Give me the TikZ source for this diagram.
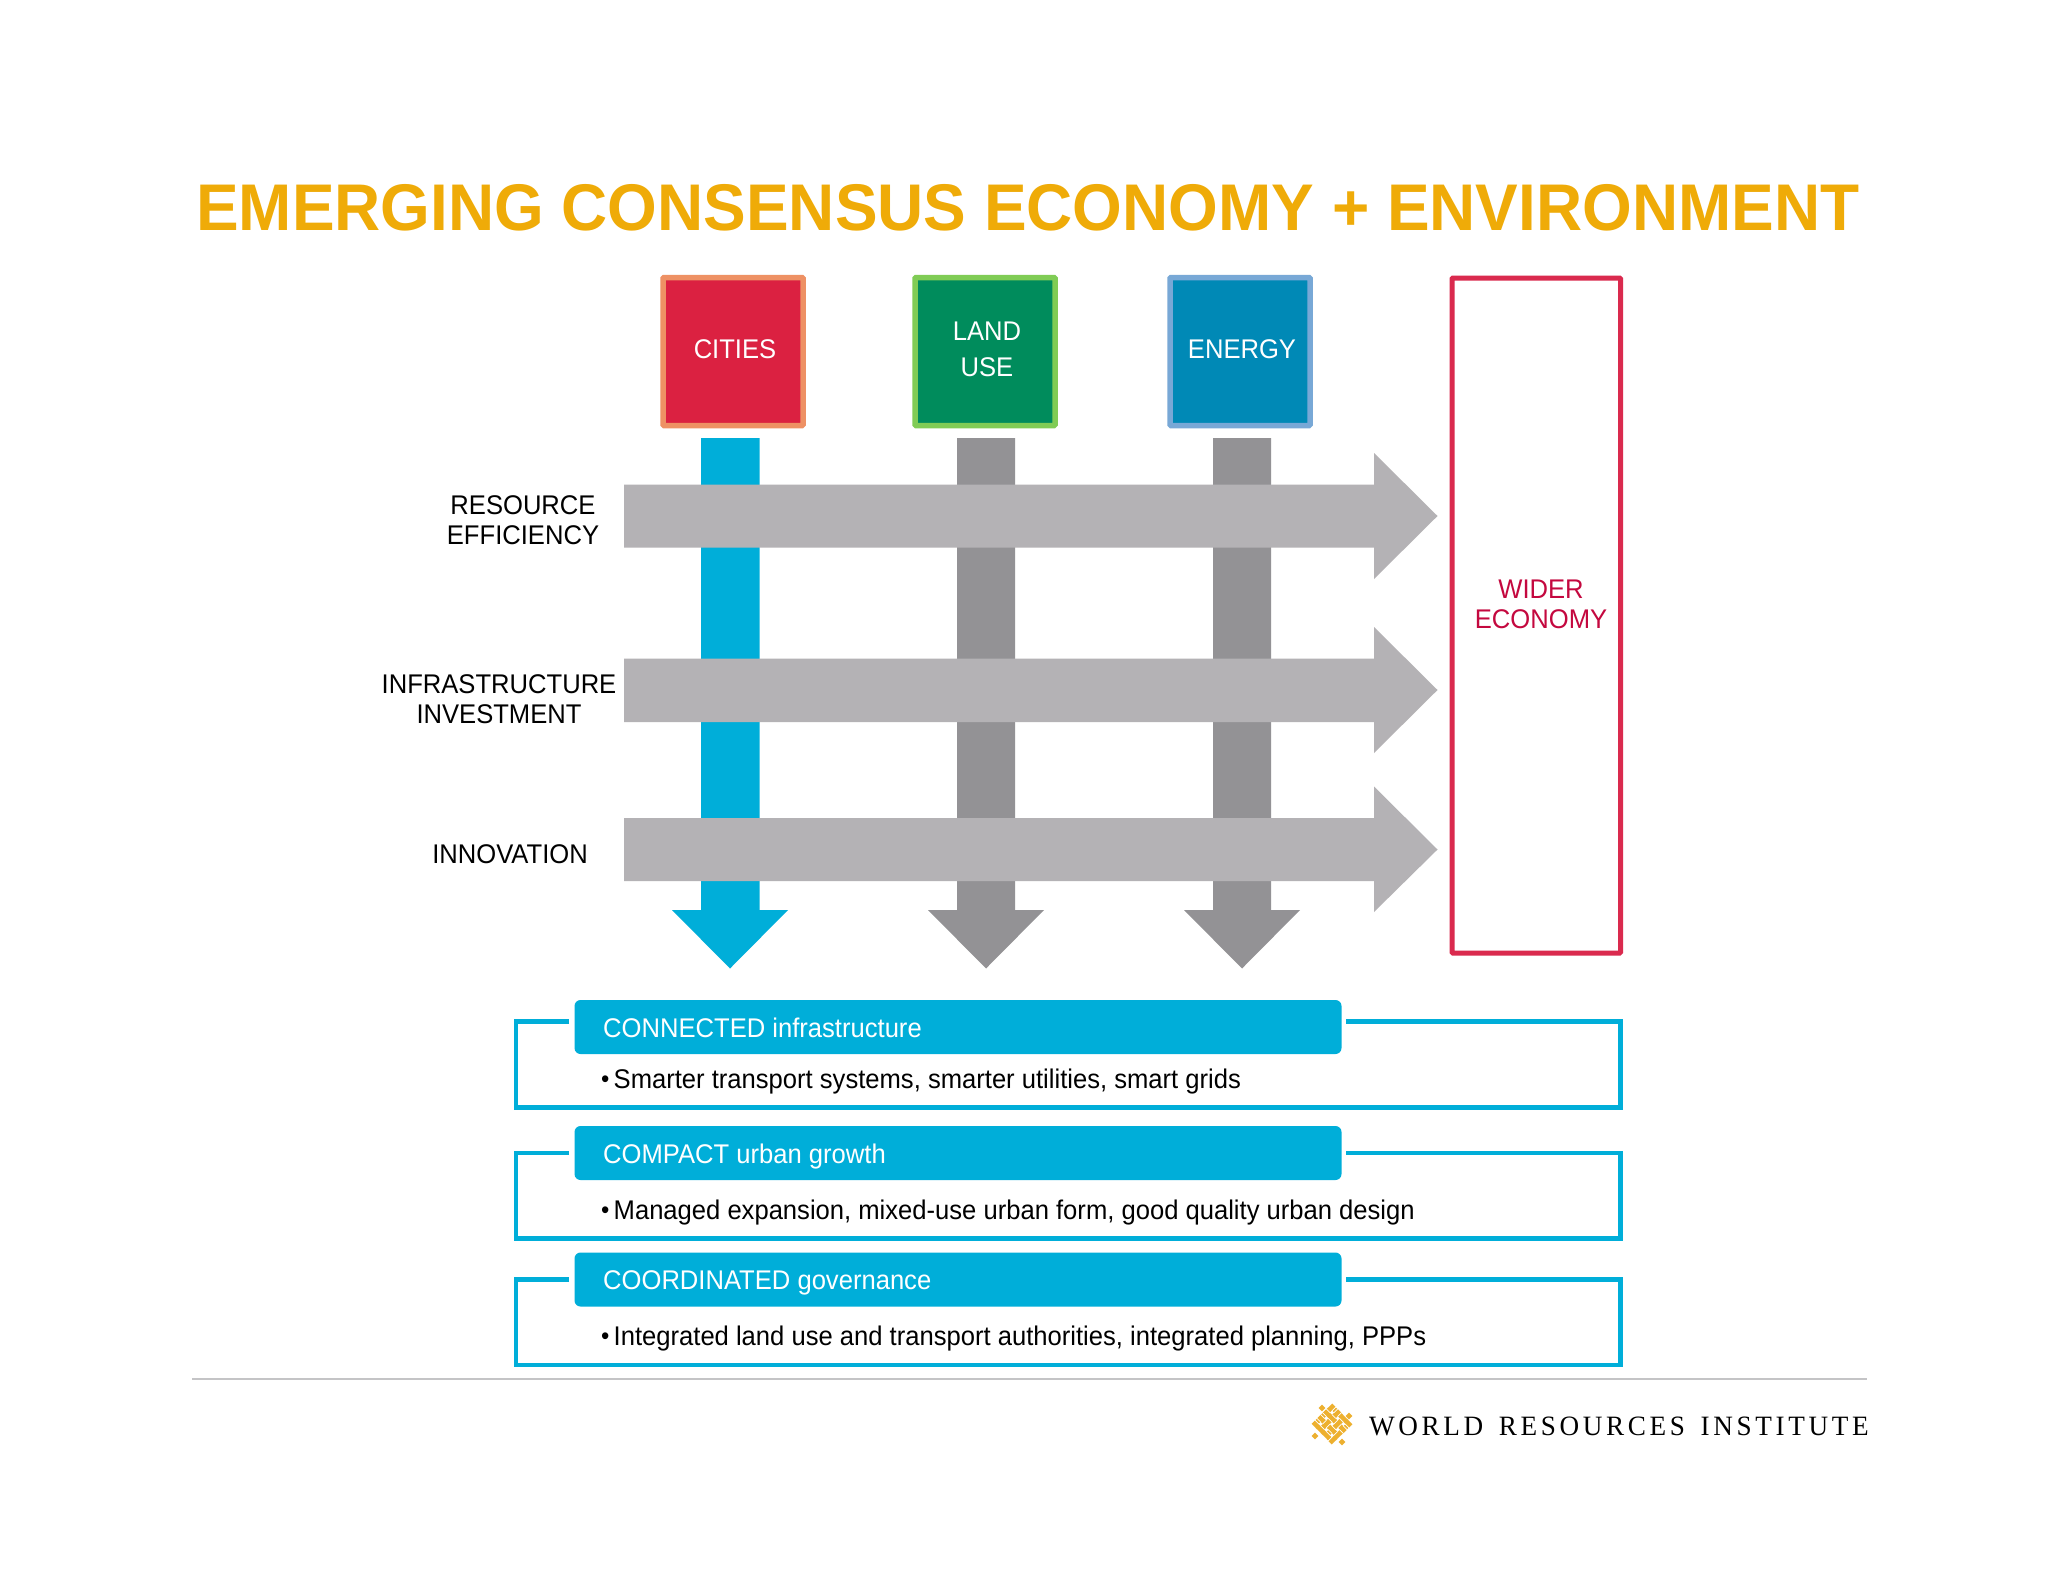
\documentclass[tikz,border=0pt]{standalone}
\usepackage{fontspec}
\setmainfont{Liberation Sans}
\newfontfamily\narrowsans[FakeStretch=0.948]{Liberation Sans}
\newfontfamily\titlesans[FakeStretch=0.968]{Liberation Sans}
\newfontfamily\serifwri[LetterSpace=13,FakeStretch=0.97,WordSpace=1.5]{Liberation Serif}
\definecolor{titlegold}{HTML}{EFAB08}
\definecolor{cyanbar}{HTML}{00AED9}
\definecolor{vgray}{HTML}{939295}
\definecolor{hgray}{HTML}{B4B2B5}
\definecolor{wider}{HTML}{DA2A4E}
\definecolor{widertxt}{HTML}{C4083F}
\definecolor{logogold}{HTML}{EDB02F}
\newcommand{\smbul}{\makebox[12.5pt][l]{\raisebox{0.5pt}{\fontsize{25}{25}\selectfont •}}}
\tikzset{
 x=1pt,y=-1pt,
 lab/.style={font=\narrowsans\fontsize{27}{30}\selectfont,align=center,inner sep=0pt,text=black},
 sq/.style={rounded corners=1pt,line width=5.5pt,minimum width=140pt,minimum height=148pt,inner sep=0pt},
 bar/.style={fill=cyanbar,rounded corners=6pt,minimum width=767pt,minimum height=54pt,inner sep=0pt},
 bartxt/.style={anchor=base west,inner sep=0pt,text=white,font=\narrowsans\fontsize{27}{30}\selectfont},
 bultxt/.style={anchor=base west,inner sep=0pt,text=black,font=\narrowsans\fontsize{27}{30}\selectfont},
 brk/.style={draw=cyanbar,line width=4.5pt,line join=miter},
}
\begin{document}
\begin{tikzpicture}
\useasboundingbox (0,0) rectangle (2048,1582);
\fill[white] (0,0) rectangle (2048,1582);
% title
\node[anchor=base west,inner sep=0pt,text=titlegold,font=\titlesans\fontsize{66}{70}\selectfont\bfseries] (title) at (196,230) {EMERGING CONSENSUS ECONOMY + ENVIRONMENT};
% squares
\node[sq,draw={rgb,255:red,238;green,145;blue,100},fill={rgb,255:red,219;green,33;blue,65}] (cities) at (733,351.5) {};
\node[sq,draw={rgb,255:red,128;green,204;blue,85},fill={rgb,255:red,0;green,140;blue,92}] (land) at (985,351.5) {};
\node[sq,draw={rgb,255:red,120;green,168;blue,214},fill={rgb,255:red,0;green,137;blue,182}] (energy) at (1240,351.5) {};
\node[lab,text=white] (citiest) at (735,349) {CITIES};
\node[lab,text=white,font=\narrowsans\fontsize{27}{36}\selectfont] (landt) at (987,349) {LAND\\USE};
\node[lab,text=white] (energyt) at (1242,349) {ENERGY};
% vertical arrows
\fill[cyanbar] (701,438) -- (759.5,438) -- (759.5,910) -- (788,910) -- (730,968.5) -- (672,910) -- (701,910) -- cycle;
\fill[vgray] (957,438) -- (1015,438) -- (1015,910) -- (1044,910) -- (986,968.5) -- (928,910) -- (957,910) -- cycle;
\fill[vgray] (1213,438) -- (1271,438) -- (1271,910) -- (1300,910) -- (1242,968.5) -- (1184,910) -- (1213,910) -- cycle;
% horizontal arrows
\fill[hgray] (624,484.5) -- (1374,484.5) -- (1374,453) -- (1437.5,516) -- (1374,579) -- (1374,547.5) -- (624,547.5) -- cycle;
\fill[hgray] (624,658.5) -- (1374,658.5) -- (1374,627) -- (1437.5,690) -- (1374,753) -- (1374,722) -- (624,722) -- cycle;
\fill[hgray] (624,818) -- (1374,818) -- (1374,786.5) -- (1437.5,849.5) -- (1374,912) -- (1374,881) -- (624,881) -- cycle;
% row labels
\node[lab] (res) at (523,520) {RESOURCE\\EFFICIENCY};
\node[lab] (inf) at (499,699) {INFRASTRUCTURE\\INVESTMENT};
\node[lab] (inn) at (510,854) {INNOVATION};
% wider economy
\draw[wider,line width=5pt,rounded corners=1pt] (1452,278) rectangle (1620.5,953);
\node[lab,text=widertxt] (wid) at (1541,604) {WIDER\\ECONOMY};
% brackets
\draw[brk] (569,1021.5) -- (516,1021.5) -- (516,1107.5) -- (1620.5,1107.5) -- (1620.5,1021.5) -- (1346,1021.5);
\draw[brk] (569,1153) -- (516,1153) -- (516,1238.5) -- (1620.5,1238.5) -- (1620.5,1153) -- (1346,1153);
\draw[brk] (569,1279.5) -- (516,1279.5) -- (516,1365) -- (1620.5,1365) -- (1620.5,1279.5) -- (1346,1279.5);
% bars
\node[bar] (b1) at (958,1027) {};
\node[bar] (b2) at (958,1153) {};
\node[bar] (b3) at (958,1279.5) {};
\node[bartxt] (b1t) at (603,1037) {CONNECTED infrastructure};
\node[bartxt] (b2t) at (603,1163) {COMPACT urban growth};
\node[bartxt] (b3t) at (603,1289.5) {COORDINATED governance};
\node[bultxt] (d1) at (601,1088) {\smbul Smarter transport systems, smarter utilities, smart grids};
\node[bultxt] (d2) at (601,1219) {\smbul Managed expansion, mixed-use urban form, good quality urban design};
\node[bultxt] (d3) at (601,1345) {\smbul Integrated land use and transport authorities, integrated planning, PPPs};
% rule
\draw[color={rgb,255:red,196;green,196;blue,198},line width=2pt] (192,1379) -- (1867,1379);
% logo
\begin{scope}[shift={(1332,1424)}]
\begin{scope}[rotate=45]
\foreach \p in {-12,-4,4,12}{
 \draw[logogold,line width=4.8pt] (\p,-14.5) -- (\p,14.5);
 \draw[logogold,line width=4.8pt] (-14.5,\p) -- (14.5,\p);
}
\foreach \a/\b in {-12/-12,-12/-4,-4/-12,-4/4,4/-4,4/12,12/4,12/12,-12/4,4/-12}{
 \draw[white,line width=0.7pt] (\a-2.7,\b-2.7) -- (\a-2.7,\b+2.7);
 \draw[white,line width=0.7pt] (\a+2.7,\b-2.7) -- (\a+2.7,\b+2.7);
}
\foreach \a/\b in {-12/12,-4/-4,-4/12,4/4,12/-12,12/-4}{
 \draw[white,line width=0.7pt] (\a-2.7,\b-2.7) -- (\a+2.7,\b-2.7);
 \draw[white,line width=0.7pt] (\a-2.7,\b+2.7) -- (\a+2.7,\b+2.7);
}
\end{scope}
\foreach \u/\v in {-10/-16,17/-8,-17/12,10/18}{
 \fill[logogold] (\u-3.4,\v) -- (\u,\v-3.4) -- (\u+3.4,\v) -- (\u,\v+3.4) -- cycle;
}
\end{scope}
\node[anchor=base west,inner sep=0pt,text=black,font=\serifwri\fontsize{28}{30}\selectfont] (wri) at (1369,1435) {WORLD RESOURCES INSTITUTE};
\end{tikzpicture}
\end{document}
